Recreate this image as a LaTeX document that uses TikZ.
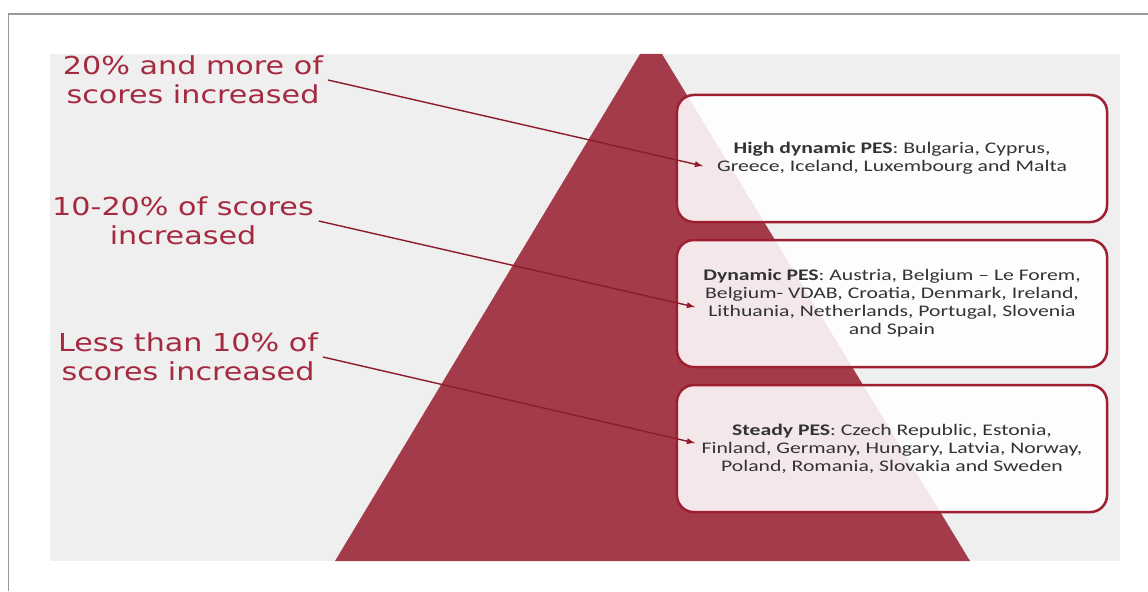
\documentclass[tikz,border=0pt]{standalone}
\usepackage{fontspec}
\usepackage{tikz}
\newfontfamily\lblfont[FakeStretch=1.22]{DejaVu Sans}
\newfontfamily\boxfont[FakeStretch=1.34,Ligatures=TeX]{Carlito}
\definecolor{pesred}{HTML}{A33B4B}
\definecolor{lblred}{HTML}{A52A40}
\definecolor{edgered}{HTML}{9E1F30}
\definecolor{panelgray}{HTML}{EFEFEF}
\tikzset{
  grp/.style={draw=edgered, line width=1.8pt, rounded corners=12pt,
    fill=white, fill opacity=0.88, text opacity=1,
    minimum width=10.75cm, minimum height=3.175cm, align=center,
    text=black!80, font=\boxfont\fontsize{11.5}{12.8}\selectfont},
  lbl/.style={text=lblred, align=center,
    font=\lblfont\fontsize{17.6}{20.6}\selectfont},
  pt/.style={->, >=latex, draw=edgered!90!black, line width=1pt}
}

\begin{document}
\begin{tikzpicture}[x=0.025cm,y=-0.025cm]
      \useasboundingbox (0,0) rectangle (1148,591);
      \draw[black!40, line width=1pt] (8.5,591) -- (8.5,14) -- (1148,14);
      \fill[panelgray] (50,54) rectangle (1120,561);
      \fill[pesred] (640,54) -- (662,54) -- (970,561) -- (335,561) -- cycle;

      \node[grp] (1) at (892,158.5) {\textbf{High dynamic PES}: Bulgaria, Cyprus,\\Greece, Iceland, Luxembourg and Malta};
      \node[grp, below of=1, yshift=-2.625cm] (2) {\textbf{Dynamic PES}: Austria, Belgium -- Le Forem,\\Belgium- VDAB, Croatia, Denmark, Ireland,\\Lithuania, Netherlands, Portugal, Slovenia\\and Spain};
      \node[grp, below of=2, yshift=-2.625cm] (3) {\textbf{Steady PES}: Czech Republic, Estonia,\\Finland, Germany, Hungary, Latvia, Norway,\\Poland, Romania, Slovakia and Sweden};

      \node[lbl] (a) at (193,80) {20\% and more of\\scores increased};
      \node[lbl] (b) at (183,221) {10-20\% of scores\\increased};
      \node[lbl] (c) at (188,357) {Less than 10\% of\\scores increased};

      \coordinate (e1) at (703,166);
      \coordinate (e2) at (695,307);
      \coordinate (e3) at (695,443);

      \draw[pt] (a.east) -- (e1);
      \draw[pt] (b.east) -- (e2);
      \draw[pt] (c.east) -- (e3);
    \end{tikzpicture}
\end{document}
